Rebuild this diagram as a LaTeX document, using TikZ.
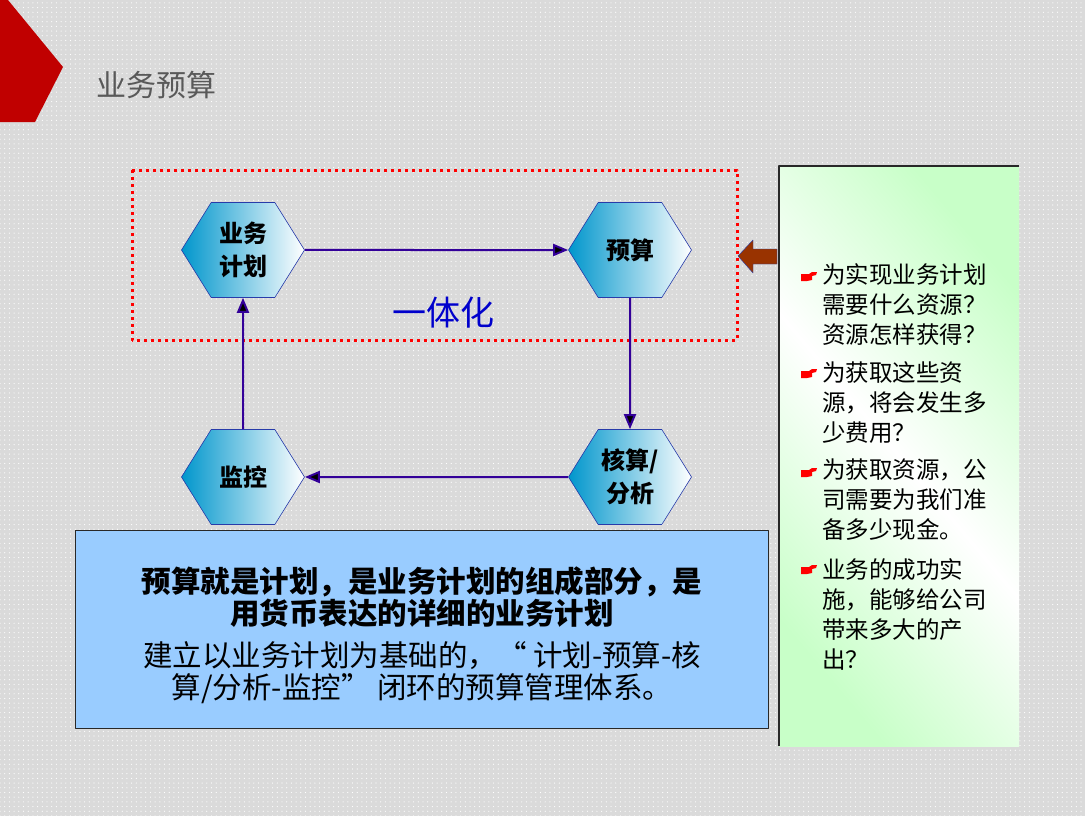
\documentclass[tikz,border=0pt]{standalone}
\usepackage{fontspec}
\setmainfont{Noto Sans CJK SC}
\usepackage{xcolor}
\usepackage{tikz}
\usetikzlibrary{shapes,arrows.meta,positioning,patterns.meta}

\definecolor{slidegray}{RGB}{218,218,218}
\definecolor{slidered}{RGB}{192,0,0}
\definecolor{titlegray}{RGB}{89,89,89}
\definecolor{hexblue}{RGB}{0,150,204}
\definecolor{hexline}{RGB}{40,60,170}
\definecolor{flowline}{RGB}{51,0,153}
\definecolor{loopblue}{RGB}{0,0,204}
\definecolor{notegreen}{RGB}{200,255,200}
\definecolor{noteblue}{RGB}{153,204,255}
\definecolor{boxline}{RGB}{40,40,40}
\definecolor{arrowbrown}{RGB}{153,51,0}

\begin{document}
\begin{tikzpicture}[x=1pt, y=-1pt, >={Triangle[length=15pt,width=12pt]}, node distance=387pt, line join=round,
  hexa/.style={signal, signal to=east and west, signal pointer angle=116, draw=hexline, semithick, left color=hexblue, right color=white, minimum width=123pt, minimum height=95pt, inner sep=0pt, align=center, font=\bfseries\fontsize{24}{33}\selectfont},
  flow/.style={->, draw=flowline, line width=2pt},
  notetext/.style={anchor=west, align=left, inner sep=0pt, font=\fontsize{23.5}{30}\selectfont}]
\fill[slidegray] (0,0) rectangle (1085,816);
\fill[pattern={Dots[radius=0.6pt,distance=4.7pt]}, pattern color=white] (0,0) rectangle (1085,816);
\useasboundingbox (0,0) rectangle (1085,816);
\fill[slidered] (0,0) -- (8,0) -- (63,67) -- (35,122) -- (0,122) -- cycle;
\node[anchor=west, text=titlegray, font=\fontsize{30}{36}\selectfont] (title) at (93,85) {业务预算};

\draw[red, line width=3pt, dash pattern=on 3pt off 4pt] (132,170) rectangle (737,340);
\node[hexa] (plan) at (243,250) {业务\\计划};
\node[hexa, right of=plan] (budget) {预算};
\node[hexa, below of=budget, node distance=227pt] (review) {核算/\\分析};
\node[hexa, below of=plan, node distance=227pt] (monitor) {监控};
\node[text=loopblue, font=\fontsize{34}{40}\selectfont] (unify) at (443,313) {一体化};
\path[flow]
(plan) edge (budget)
(budget) edge (review)
(review) edge (monitor)
(monitor) edge (plan);

\draw[fill=arrowbrown, draw=hexline] (738,256) -- (753,240) -- (753,249) -- (777,249) -- (777,264) -- (753,264) -- (753,273) -- cycle;

\path[top color=notegreen, bottom color=notegreen, middle color=white, shading angle=-50] (779,166) rectangle (1019,746);
\draw[boxline, line width=1.3pt] (779,746) -- (779,166) -- (1019,166);
\node[notetext] (need) at (822,305) {为实现业务计划\\需要什么资源？\\资源怎样获得？};
\node[notetext] (cost) at (822,403) {为获取这些资\\源，将会发生多\\少费用？};
\node[notetext] (cash) at (822,500) {为获取资源，公\\司需要为我们准\\备多少现金。};
\node[notetext] (gain) at (822,614) {业务的成功实\\施，能够给公司\\带来多大的产\\出？};
\foreach \y in {277,374,473,570}
  \fill[red, shift={(0,\y)}] (801,-3) -- (809,-3) -- (812,-5) -- (817,-5) -- (816,-2) -- (812,-1) -- (812,3) -- (807,4) -- (801,4) -- cycle;

\node[draw=boxline, fill=noteblue, line width=1.2pt, minimum width=693pt, minimum height=198pt, anchor=north west] (summary) at (75,530) {};
\node[align=center, font=\fontsize{29.5}{32}\selectfont] (summarytext) at ([yshift=-6pt]summary.center)
  {\bfseries 预算就是计划，是业务计划的组成部分，是\\\bfseries 用货币表达的详细的业务计划\\[10pt]
   建立以业务计划为基础的，“ 计划-预算-核\\算/分析-监控” 闭环的预算管理体系。};
\end{tikzpicture}
\end{document}
